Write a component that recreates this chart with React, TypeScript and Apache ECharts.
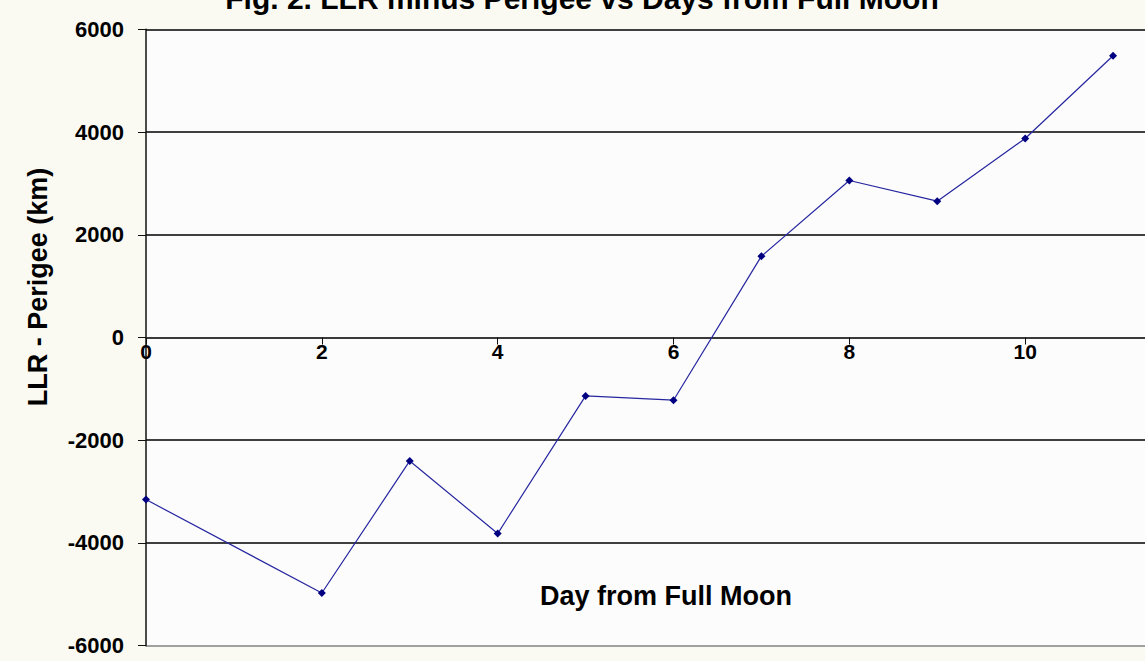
import React, { useEffect, useRef } from "react";
import * as echarts from "echarts";

const days = [0, 2, 3, 4, 5, 6, 7, 8, 9, 10, 11];
const llrMinusPerigee = [-3155, -4974, -2403, -3817, -1137, -1221, 1583, 3057, 2654, 3875, 5484];
const yTicks = { min: -6000, max: 6000, interval: 2000 };
const xTicks = { min: 0, max: 12, interval: 2 };
const titleText = "Fig. 2. LLR minus Perigee vs Days from Full Moon";
const xName = "Day from Full Moon";
const yName = "LLR - Perigee (km)";

const FONT = "'Liberation Sans', Arial, sans-serif";
const GRID_LEFT = 146;
const GRID_TOP = 29.3;
const GRID_W = 1055;
const GRID_H = 616.4;

export default function App() {
  const ref = useRef<HTMLDivElement>(null);
  useEffect(() => {
    if (!ref.current) return;
    const chart = echarts.init(ref.current, undefined, { renderer: "svg" });
    // distance from grid bottom up to the y=0 line
    const zeroOffset = -GRID_H * ((0 - yTicks.min) / (yTicks.max - yTicks.min));
    const nY = Math.round((yTicks.max - yTicks.min) / yTicks.interval) + 1;
    const splitColors = ["#a0a0a0"].concat(new Array(nY - 1).fill("#3f3f3f"));
    chart.setOption({
      animation: false,
      backgroundColor: "#fafaf3",
      grid: {
        left: GRID_LEFT,
        top: GRID_TOP,
        width: GRID_W,
        height: GRID_H,
        outerBoundsMode: "none",
        containLabel: false,
        show: false,
      },
      graphic: [
        {
          type: "rect",
          z: -10,
          silent: true,
          shape: { x: GRID_LEFT, y: GRID_TOP, width: GRID_W, height: GRID_H },
          style: { fill: "#fcfcfc", stroke: "none" },
        },
        {
          type: "text",
          x: 582,
          y: -2,
          style: {
            text: titleText,
            font: `bold 30px ${FONT}`,
            fill: "#000",
            textAlign: "center",
            textVerticalAlign: "middle",
          },
        },
        {
          type: "text",
          x: 666,
          y: 596,
          style: {
            text: xName,
            font: `bold 27px ${FONT}`,
            fill: "#000",
            textAlign: "center",
            textVerticalAlign: "middle",
          },
        },
        {
          type: "text",
          x: 38,
          y: 287,
          rotation: Math.PI / 2,
          style: {
            text: yName,
            font: `bold 27px ${FONT}`,
            fill: "#000",
            textAlign: "center",
            textVerticalAlign: "middle",
          },
        },
      ],
      xAxis: {
        type: "value",
        position: "bottom",
        offset: zeroOffset,
        min: xTicks.min,
        max: xTicks.max,
        interval: xTicks.interval,
        axisLine: { show: true, onZero: false, lineStyle: { color: "#3a3a3a", width: 2 } },
        axisTick: { show: true, length: 7, lineStyle: { color: "#111", width: 1 } },
        axisLabel: {
          margin: 3,
          showMaxLabel: false,
          fontFamily: FONT,
          fontWeight: "bold",
          fontSize: 21,
          color: "#000",
          formatter: (v: number) => String(v),
        },
        splitLine: { show: false },
      },
      yAxis: {
        type: "value",
        min: yTicks.min,
        max: yTicks.max,
        interval: yTicks.interval,
        axisLine: { show: true, lineStyle: { color: "#111", width: 1.5 } },
        axisTick: { show: true, length: 8, lineStyle: { color: "#111", width: 1 } },
        axisLabel: {
          margin: 22,
          fontFamily: FONT,
          fontWeight: "bold",
          fontSize: 22,
          color: "#000",
          formatter: (v: number) => String(v),
        },
        splitLine: {
          show: true,
          showMinLine: true,
          lineStyle: { color: splitColors, width: 2 },
        },
      },
      series: [
        {
          type: "line",
          data: days.map((d, i) => [d, llrMinusPerigee[i]]),
          symbol: "diamond",
          symbolSize: 8,
          itemStyle: { color: "#000080" },
          lineStyle: { color: "#2626a0", width: 1.2 },
          z: 5,
        },
      ],
    });
    return () => chart.dispose();
  }, []);
  return (
    <div
      style={{
        position: "fixed",
        left: 0,
        top: 0,
        width: 1145,
        height: 661,
        overflow: "hidden",
        background: "#fafaf3",
      }}
    >
      <div ref={ref} style={{ width: 1240, height: 661 }} />
    </div>
  );
}
